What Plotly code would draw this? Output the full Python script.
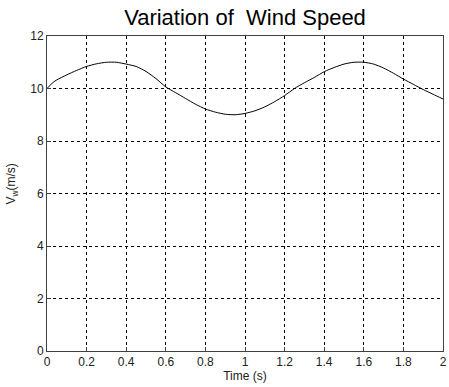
import plotly.graph_objects as go

time_s = [0.0, 0.03, 0.05, 0.1, 0.15, 0.2, 0.25, 0.3, 0.35, 0.4, 0.45, 0.5, 0.55, 0.6,
          0.65, 0.7, 0.75, 0.8, 0.85, 0.9, 0.95, 1.0, 1.05, 1.1, 1.15, 1.2, 1.25, 1.3,
          1.35, 1.4, 1.45, 1.5, 1.55, 1.6, 1.65, 1.7, 1.75, 1.8, 1.85, 1.9, 1.95, 2.0]
wind_speed = [10.0, 10.23, 10.33, 10.52, 10.69, 10.84, 10.94, 11.0, 11.0, 10.93, 10.84,
              10.65, 10.38, 10.06, 9.84, 9.62, 9.4, 9.22, 9.1, 9.02, 9.0, 9.05, 9.15,
              9.3, 9.5, 9.73, 10.0, 10.22, 10.42, 10.64, 10.8, 10.93, 11.0, 11.0, 10.93,
              10.78, 10.58, 10.36, 10.16, 9.96, 9.78, 9.6]
x_ticks = [0, 0.2, 0.4, 0.6, 0.8, 1, 1.2, 1.4, 1.6, 1.8, 2]
x_tick_labels = ["0", "0.2", "0.4", "0.6", "0.8", "1", "1.2", "1.4", "1.6", "1.8", "2"]
y_ticks = [0, 2, 4, 6, 8, 10, 12]
y_tick_labels = ["0", "2", "4", "6", "8", "10", "12"]

FONT = "Liberation Sans, Arial, sans-serif"

fig = go.Figure()
fig.add_trace(go.Scatter(x=time_s, y=wind_speed, mode="lines",
                         line=dict(color="black", width=1, shape="spline", smoothing=0.6),
                         showlegend=False, hoverinfo="skip"))

axis_common = dict(showline=True, linecolor="#404040", linewidth=1, mirror=True,
                   showgrid=True, gridcolor="black", gridwidth=1, griddash="3px,3px",
                   zeroline=False, ticks="inside", ticklen=4, tickcolor="#404040",
                   ticklabeloverflow="allow",
                   tickfont=dict(family=FONT, size=12, color="#222222"))

fig.update_xaxes(range=[0, 2], tickvals=x_ticks, ticktext=x_tick_labels,
                 title=dict(text="Time (s)", font=dict(family=FONT, size=12, color="#222222"),
                            standoff=2),
                 **axis_common)
fig.update_yaxes(range=[0, 12], tickvals=y_ticks, ticktext=y_tick_labels,
                 **axis_common)

fig.add_annotation(text="V<sub>w</sub>(m/s)", xref="paper", yref="paper",
                   x=-0.087, y=0.53, xanchor="center", yanchor="middle",
                   textangle=-90, showarrow=False,
                   font=dict(family=FONT, size=12, color="#222222"))

fig.update_layout(
    width=449, height=387,
    margin=dict(l=47, r=2, t=36, b=36),
    paper_bgcolor="white", plot_bgcolor="white",
    title=dict(text="Variation of  Wind Speed", x=0.5, xref="paper", y=0.955, yref="container",
               xanchor="center", yanchor="middle",
               font=dict(family=FONT, size=22, color="black")),
)

fig.write_html("out.html")
